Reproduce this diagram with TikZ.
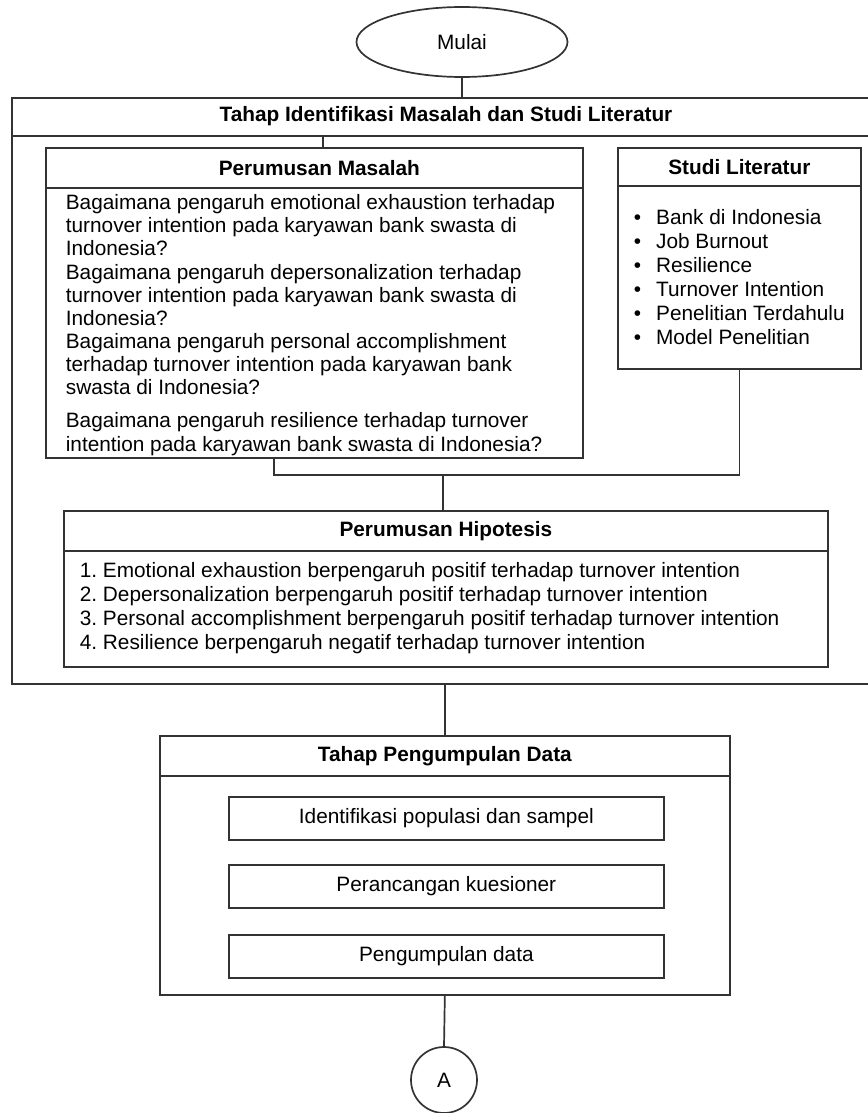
\documentclass[tikz,border=0pt]{standalone}
\usepackage{fontspec}
\setmainfont{Liberation Sans}
\usetikzlibrary{positioning,calc,shapes.geometric}
\newcommand{\ukuran}{\fontsize{20.8}{24}\selectfont}
\frenchspacing

\begin{document}
\begin{tikzpicture}[x=1pt,y=-1pt,line width=1.7pt,
  kotak/.style={draw=black!80,rectangle,anchor=north west,inner sep=0pt,font=\ukuran},
  judul/.style={font=\ukuran\bfseries,inner sep=0pt},
  isi/.style={font=\ukuran,anchor=base west,inner sep=0pt},
  konektor/.style={draw=black!80}]
\useasboundingbox (0,0) rectangle (867,1113);

\node[draw=black!80,ellipse,minimum width=211pt,minimum height=70pt,inner sep=0pt,font=\ukuran] (mulai) at (462,42) {Mulai};

% tahap identifikasi masalah dan studi literatur
\node[kotak,minimum width=875pt,minimum height=586pt] (tahap1) at (11,97) {};
\node[kotak,minimum width=875pt,minimum height=38pt] (kepala1) at (11,97) {};
\node[judul] (judul1) at (446,116) {Tahap Identifikasi Masalah dan Studi Literatur};

% perumusan masalah
\node[kotak,minimum width=537pt,minimum height=310pt] (pm) at (45,147) {};
\node[kotak,minimum width=537pt,minimum height=40pt] (pmkepala) at (45,147) {};
\node[judul] (pmjudul) at ([xshift=5pt]pmkepala.center) {Perumusan Masalah};
\foreach \yy/\teks [count=\i] in {209/Bagaimana pengaruh emotional exhaustion terhadap,
    232/turnover intention pada karyawan bank swasta di, 255/Indonesia?,
    279/Bagaimana pengaruh depersonalization terhadap,
    302/turnover intention pada karyawan bank swasta di, 325/Indonesia?,
    348/Bagaimana pengaruh personal accomplishment,
    371/terhadap turnover intention pada karyawan bank, 394/swasta di Indonesia?,
    427/Bagaimana pengaruh resilience terhadap turnover,
    451/intention pada karyawan bank swasta di Indonesia?}
  \node[isi] (pm\i) at (65,\yy) {\teks};

% studi literatur
\node[kotak,minimum width=243pt,minimum height=221pt] (sl) at (617,147) {};
\node[kotak,minimum width=243pt,minimum height=38pt] (slkepala) at (617,147) {};
\node[judul] (sljudul) at (slkepala.center) {Studi Literatur};
\foreach \teks [count=\i] in {Bank di Indonesia,Job Burnout,Resilience,Turnover Intention,Penelitian Terdahulu,Model Penelitian}
  \node[isi] (sl\i) at (633,{200+24*\i}) {\textbullet\hspace{15pt}\teks};

% perumusan hipotesis
\node[kotak,minimum width=764pt,minimum height=156pt] (hip) at (63,510) {};
\node[kotak,minimum width=764pt,minimum height=40pt] (hipkepala) at (63,510) {};
\node[judul] (hipjudul) at (hipkepala.center) {Perumusan Hipotesis};
\foreach \teks [count=\i] in {1. Emotional exhaustion berpengaruh positif terhadap turnover intention,
    2. Depersonalization berpengaruh positif terhadap turnover intention,
    3. Personal accomplishment berpengaruh positif terhadap turnover intention,
    4. Resilience berpengaruh negatif terhadap turnover intention}
  \node[isi] (hip\i) at (79,{553+24*\i}) {\teks};

\draw[konektor] (mulai.south) -- (mulai.south |- tahap1.north);
\draw[konektor] ([xshift=8.5pt]pmkepala.north) -- ([xshift=8.5pt]pmkepala.north |- kepala1.south);
\coordinate (gabung) at (443,475);
\draw[konektor] ([xshift=-40.5pt]pm.south) |- (gabung) -| (sl.south);
\draw[konektor] (gabung) -- (gabung |- hip.north);

% tahap pengumpulan data
\node[kotak,minimum width=570pt,minimum height=259pt] (tahap2) at (159,735) {};
\node[kotak,minimum width=570pt,minimum height=40pt] (kepala2) at (159,735) {};
\node[judul] (judul2) at (kepala2.center) {Tahap Pengumpulan Data};
\foreach \yy/\teks [count=\i] in {796/Identifikasi populasi dan sampel,864/Perancangan kuesioner,934/Pengumpulan data}
  \node[kotak,minimum width=435pt,minimum height=43pt] (data\i) at (228,\yy) {\teks};

\node[draw=black!80,circle,minimum size=66pt,inner sep=0pt,font=\ukuran] (A) at (444,1080) {A};
\draw[konektor] (tahap2.north |- tahap1.south) -- (tahap2.north);
\draw[konektor] (tahap2.south) -- (A.north);
\end{tikzpicture}
\end{document}
